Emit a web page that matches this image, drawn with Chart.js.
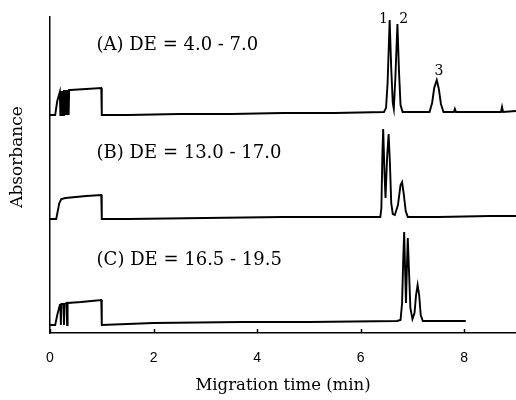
<!DOCTYPE html>
<html lang="en">
<head>
    <meta charset="UTF-8">
    <title>Migration time electropherograms</title>
    <script src="https://cdn.jsdelivr.net/npm/chart.js"></script>
    <style>
        body {
            margin: 0;
            padding: 0;
            background: #ffffff;
        }
        .wrap {
            position: relative;
            width: 516px;
            height: 400px;
        }
    </style>
</head>
<body>
    <div class="wrap">
        <canvas id="chart" width="516" height="400"></canvas>
    </div>

    <script>
        // x tick values (min)
        const tickValues = [0, 2, 4, 6, 8];

        // (A) DE = 4.0 - 7.0
        const timeA = [0, 0.10, 0.14, 0.19,
            0.20, 0.21, 0.22, 0.23, 0.24, 0.25, 0.26, 0.27, 0.28, 0.29, 0.30, 0.31, 0.32, 0.33, 0.34, 0.35, 0.36, 0.37,
            0.39, 0.99, 1.00,
            1.5, 2.5, 3.5, 4.5, 5.5, 6.45,
            6.49, 6.52, 6.56, 6.59, 6.62, 6.64,
            6.67, 6.71, 6.74, 6.77, 6.81,
            7.1, 7.33, 7.38, 7.42, 7.47, 7.51, 7.55, 7.6,
            7.8, 7.82, 7.84, 8.3, 8.71, 8.73, 8.75, 9.0];
        const absA = [218, 218, 232, 241,
            218, 242, 218, 242, 218, 242, 218, 243, 218, 243, 218, 243, 218, 243, 218, 243, 218, 243,
            243, 245, 218,
            218, 219, 219, 220, 220, 221,
            225, 250, 313, 265, 230, 224,
            255, 309, 262, 228, 221,
            221, 221, 230, 245, 253, 244, 229, 221,
            221, 224, 221, 221, 221, 226, 221, 222];

        // (B) DE = 13.0 - 17.0
        const timeB = [0, 0.12, 0.15, 0.18, 0.22, 0.3, 0.5, 0.7, 0.99, 1.00,
            1.5, 3, 4.5, 6.3, 6.38,
            6.40, 6.42, 6.435, 6.46, 6.48, 6.51, 6.54, 6.565, 6.59, 6.62, 6.66,
            6.72, 6.77, 6.80, 6.83, 6.87, 6.91, 7.5, 8.5, 9.0];
        const absB = [114, 114, 122, 130, 134, 135, 136, 137, 138, 114,
            114, 115, 116, 116, 116,
            125, 180, 204, 160, 135, 175, 199, 170, 130, 119, 118,
            128, 148, 151, 140, 122, 116, 116, 117, 117];

        // (C) DE = 16.5 - 19.5
        const timeC = [0, 0.10, 0.14, 0.19, 0.20, 0.21, 0.22, 0.26, 0.27, 0.28, 0.32, 0.33, 0.34,
            0.6, 0.99, 1.00, 2, 3.7, 5, 6.7, 6.77,
            6.80, 6.82, 6.84, 6.86, 6.875, 6.89, 6.91, 6.935, 6.96, 7.0,
            7.04, 7.07, 7.10, 7.13, 7.16, 7.2, 7.6, 8.03];
        const absC = [8, 8, 18, 28, 28, 8, 29, 29, 8, 29, 30, 8, 30,
            31, 33, 8, 10, 11, 11, 12, 13,
            30, 70, 101, 60, 30, 60, 95, 60, 25, 14,
            20, 38, 48, 38, 18, 12, 12, 12];

        const traceLabels = ['(A) DE = 4.0 - 7.0', '(B) DE = 13.0 - 17.0', '(C) DE = 16.5 - 19.5'];
        const traceLabelAt = [[0.9, 283], [0.9, 175], [0.9, 68]];
        const peakNames = ['1', '2', '3'];
        const peakNameAt = [[6.44, 310], [6.83, 310], [7.51, 258]];

        function toPoints(xs, ys) {
            return xs.map((x, i) => ({ x: x, y: ys[i] }));
        }

        const serif = "'DejaVu Serif', serif";

        const lineStyle = {
            borderColor: '#000000',
            borderWidth: 1.9,
            pointRadius: 0,
            tension: 0,
            fill: false
        };

        // inward ticks on x axis, peak/trace labels, y title
        const decorPlugin = {
            id: 'decor',
            afterDatasetsDraw(chart) {
                const ctx = chart.ctx;
                const xs = chart.scales.x;
                const ys = chart.scales.y;
                const area = chart.chartArea;

                ctx.save();
                ctx.strokeStyle = '#000';
                ctx.lineWidth = 1.5;
                tickValues.forEach(v => {
                    const px = Math.round(xs.getPixelForValue(v)) + 0.5;
                    ctx.beginPath();
                    ctx.moveTo(px, area.bottom);
                    ctx.lineTo(px, area.bottom - 4);
                    ctx.stroke();
                });

                ctx.fillStyle = '#000';
                ctx.textBaseline = 'alphabetic';
                ctx.textAlign = 'left';
                ctx.font = '18px ' + serif;
                traceLabels.forEach((t, i) => {
                    ctx.fillText(t, xs.getPixelForValue(traceLabelAt[i][0]), ys.getPixelForValue(traceLabelAt[i][1]));
                });

                ctx.textAlign = 'center';
                ctx.font = '14px ' + serif;
                peakNames.forEach((t, i) => {
                    ctx.fillText(t, xs.getPixelForValue(peakNameAt[i][0]), ys.getPixelForValue(peakNameAt[i][1]));
                });

                ctx.translate(area.left - 32, ys.getPixelForValue(176));
                ctx.rotate(-Math.PI / 2);
                ctx.textBaseline = 'middle';
                ctx.font = '17px ' + serif;
                ctx.fillText('Absorbance', 0, 0);
                ctx.restore();
            }
        };

        new Chart(document.getElementById('chart'), {
            type: 'line',
            data: {
                datasets: [
                    Object.assign({ label: 'A', data: toPoints(timeA, absA) }, lineStyle),
                    Object.assign({ label: 'B', data: toPoints(timeB, absB) }, lineStyle),
                    Object.assign({ label: 'C', data: toPoints(timeC, absC) }, lineStyle)
                ]
            },
            options: {
                responsive: false,
                animation: false,
                layout: { padding: { top: 17, left: 0, right: 0, bottom: 0 } },
                plugins: {
                    legend: { display: false },
                    tooltip: { enabled: false }
                },
                scales: {
                    x: {
                        type: 'linear',
                        min: 0,
                        max: 9,
                        grid: { display: false },
                        border: { display: true, color: '#000', width: 1.5 },
                        afterBuildTicks: s => { s.ticks = tickValues.map(v => ({ value: v })); },
                        afterFit: s => { s.height = 67; },
                        ticks: {
                            color: '#000',
                            padding: 9,
                            maxRotation: 0,
                            font: { family: "'Liberation Sans', Arial, sans-serif", size: 14 }
                        },
                        title: {
                            display: true,
                            text: 'Migration time (min)',
                            color: '#000',
                            font: { family: serif, size: 16.5, lineHeight: 1.2 },
                            padding: { top: 4, bottom: 4 }
                        }
                    },
                    y: {
                        type: 'linear',
                        min: 0,
                        max: 316,
                        grid: { display: false },
                        border: { display: true, color: '#000', width: 1.5 },
                        ticks: { display: false },
                        afterFit: s => { s.width = 50; }
                    }
                }
            },
            plugins: [decorPlugin]
        });
    </script>
</body>
</html>
